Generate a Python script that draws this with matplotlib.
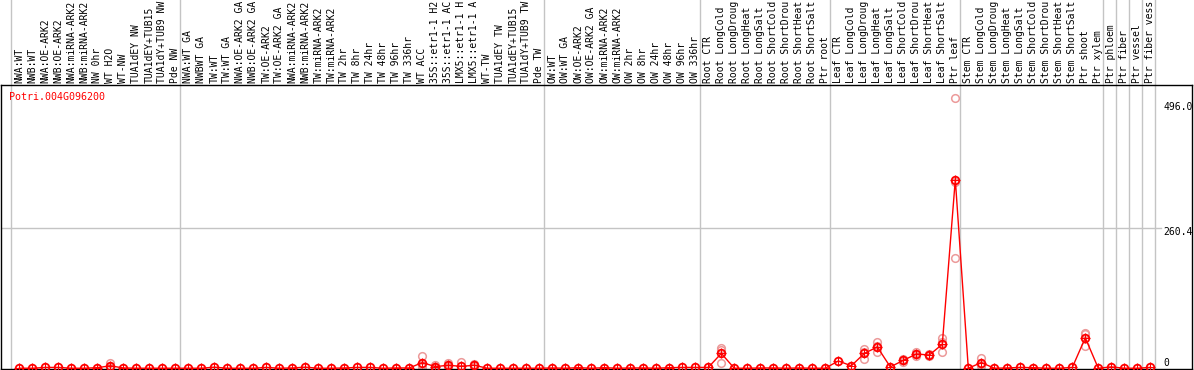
import matplotlib
matplotlib.use("Agg")
import matplotlib.pyplot as plt
import matplotlib.transforms as mtrans

gene = "Potri.004G096200"

samples = [
    "NWA:WT", "NWB:WT", "NWA:OE-ARK2", "NWB:OE-ARK2", "NWA:miRNA-ARK2", "NWB:miRNA-ARK2",
    "NW 0hr", "WT H2O", "WT-NW", "TUA1dEY NW", "TUA1dEY+TUB15", "TUA1dY+TUB9 NW", "Pde NW",
    "NWA:WT GA", "NWBWT GA", "TW:WT", "TW:WT GA", "NWA:OE-ARK2 GA", "NWB:OE-ARK2 GA",
    "TW:OE-ARK2", "TW:OE-ARK2 GA", "NWA:miRNA-ARK2", "NWB:miRNA-ARK2", "TW:miRNA-ARK2",
    "TW:miRNA-ARK2", "TW 2hr", "TW 8hr", "TW 24hr", "TW 48hr", "TW 96hr", "TW 336hr",
    "WT ACC", "35S::etr1-1 H2", "35S::etr1-1 AC", "LMX5::etr1-1 H", "LMX5::etr1-1 A",
    "WT-TW", "TUA1dEY TW", "TUA1dEY+TUB15", "TUA1dY+TUB9 TW", "Pde TW",
    "OW:WT", "OW:WT GA", "OW:OE-ARK2", "OW:OE-ARK2 GA", "OW:miRNA-ARK2", "OW:miRNA-ARK2",
    "OW 2hr", "OW 8hr", "OW 24hr", "OW 48hr", "OW 96hr", "OW 336hr",
    "Root CTR", "Root LongCold", "Root LongDroug", "Root LongHeat", "Root LongSalt",
    "Root ShortCold", "Root ShortDrou", "Root ShortHeat", "Root ShortSalt", "Ptr root",
    "Leaf CTR", "Leaf LongCold", "Leaf LongDroug", "Leaf LongHeat", "Leaf LongSalt",
    "Leaf ShortCold", "Leaf ShortDrou", "Leaf ShortHeat", "Leaf ShortSalt", "Ptr leaf",
    "Stem CTR", "Stem LongCold", "Stem LongDroug", "Stem LongHeat", "Stem LongSalt",
    "Stem ShortCold", "Stem ShortDrou", "Stem ShortHeat", "Stem ShortSalt", "Ptr shoot",
    "Ptr xylem", "Ptr phloem", "Ptr fiber", "Ptr vessel", "Ptr fiber vess",
]

mean_values = [
    0.5, 0.5, 2, 2, 0.5, 0.5, 1.5, 5, 1, 0.5, 0.5, 0.5, 0.5,
    0.5, 0.5, 2.5, 0.5, 0.5, 0.5, 2, 0.5, 1, 2.5, 0.5, 0.5, 1, 2, 2, 0.5, 1, 1,
    11, 3.5, 6, 4, 6, 0.5, 0.5, 0.5, 0.5, 0.5,
    1, 0.5, 1.5, 0.5, 1.5, 0.5, 1, 1, 0.5, 1.5, 2, 2,
    2, 28, 0.5, 0.5, 1, 1, 0.5, 1, 0.5, 0.5,
    14, 5, 28, 40, 3, 15, 27, 25, 45, 351,
    0.5, 11, 0.5, 1, 2, 1.5, 0.5, 0.5, 2, 57,
    0.5, 3, 0.5, 0.5, 2,
]

rep_index = [7, 31, 32, 33, 34, 35, 54, 65, 66, 68, 69, 70, 71, 72, 74, 82]
rep_values = [
    [11, 3, 1], [23, 7, 3], [6, 3, 1.5], [11, 5, 2], [12, 0, 0], [9, 6, 3],
    [39, 34, 11], [37, 30, 17], [49, 42, 30], [17, 15, 13], [30, 27, 24],
    [27, 25, 23], [56, 49, 31], [502, 347, 205], [19, 9, 5], [66, 64, 41],
]

group_ends = [-1, 12, 40, 52, 62, 72, 83, 84, 85, 86, 87]
y_ticks = [496.0, 260.4, 0]
y_tick_labels = ["496.0", "260.4", "0"]

W, H = 1194, 370
fig = plt.figure(figsize=(W / 100, H / 100), dpi=100)

# axes pixel box
ax_l, ax_r, ax_t, ax_b = 1, 1192, 85, 369
ax = fig.add_axes([ax_l / W, (H - ax_b) / H, (ax_r - ax_l) / W, (ax_b - ax_t) / H])

x0_px, dx_px = 19.3, 13.0
ax.set_xlim((ax_l - x0_px) / dx_px, (ax_r - x0_px) / dx_px)
ppu = (368.5 - 228.3) / 260.4
ax.set_ylim(-(ax_b - 368.5) / ppu, (368.5 - ax_t) / ppu)
ax.set_xticks([])
ax.set_yticks([])
for s in ax.spines.values():
    s.set_color("black")
    s.set_linewidth(1.0)

gray = "#c4c4c4"
mono = "DejaVu Sans Mono"
top_ext = ax_b / (ax_b - ax_t)
for g in group_ends:
    ax.axvline(g + 0.38, ymin=0, ymax=top_ext, color=gray, lw=1.0, clip_on=False, zorder=1)

# horizontal grid at the middle tick
x_end = (1161 - x0_px) / dx_px
ax.plot([ax.get_xlim()[0], x_end], [y_ticks[1], y_ticks[1]], color=gray, lw=1.0, zorder=1)

xs = list(range(len(mean_values)))
# replicate points
for i, reps in zip(rep_index, rep_values):
    ax.plot([i] * len(reps), reps, linestyle="none", marker="o", markersize=5.5,
            markerfacecolor="none", markeredgecolor="#ec9a9a", markeredgewidth=1.1,
            zorder=2, clip_on=False)

ax.plot(xs, mean_values, color="#ff0000", lw=1.0, zorder=3)
ax.plot(xs, mean_values, linestyle="none", marker="o", markersize=5.5,
        markerfacecolor="none", markeredgecolor="#ff0000", markeredgewidth=1.3, zorder=4)
ax.plot(xs, mean_values, linestyle="none", marker="+", markersize=7.5,
        markeredgecolor="#ff0000", markeredgewidth=0.8, zorder=4)

# sample labels
trans = mtrans.blended_transform_factory(ax.transData, ax.transAxes)
lab_y = (ax_b - 83) / (ax_b - ax_t)
for i, lab in enumerate(samples):
    ax.text(i, lab_y, lab, rotation=90, ha="center", va="bottom", transform=trans,
            fontsize=7, family=mono, color="black", clip_on=False)

# right tick labels
label_centers = [107, 232, 363]
for lab, yc in zip(y_tick_labels, label_centers):
    fig.text(1163 / W, (H - yc) / H, lab, ha="left", va="center", fontsize=7,
             family=mono, color="black")

fig.text(9 / W, (H - 97) / H, gene, ha="left", va="center", fontsize=7.2,
         family=mono, color="#ff0000")

fig.savefig("out.png", dpi=100)
